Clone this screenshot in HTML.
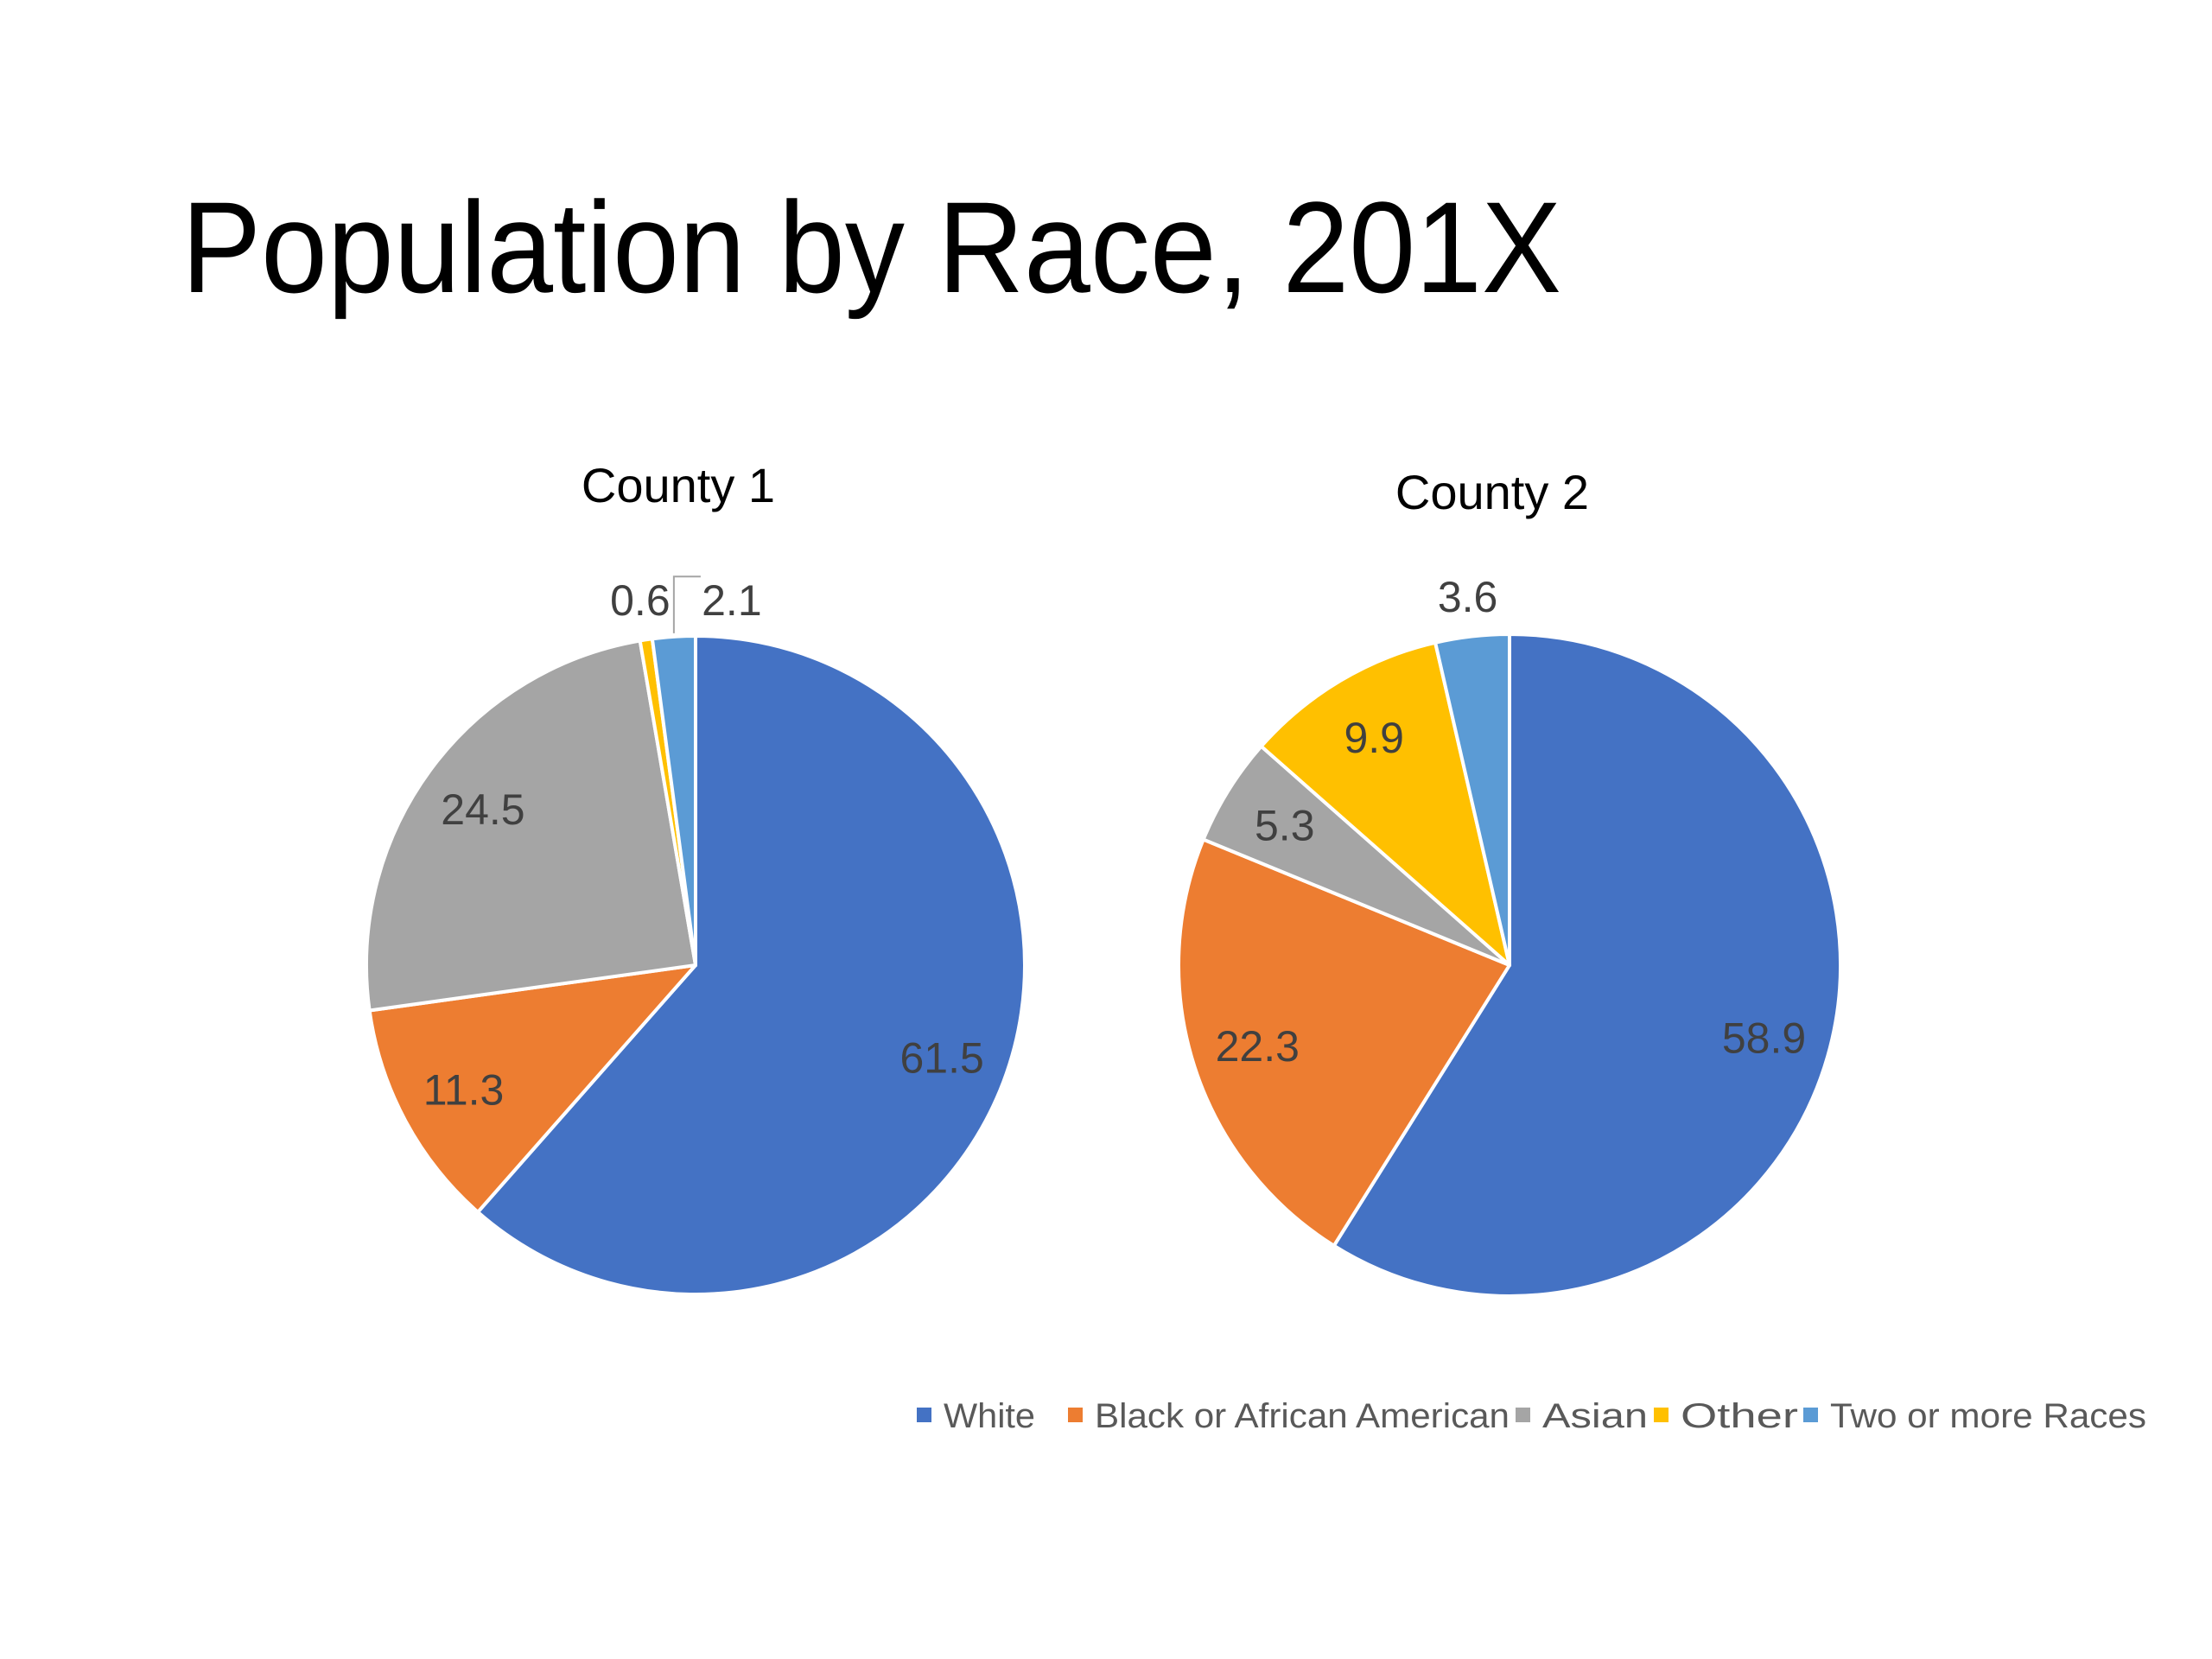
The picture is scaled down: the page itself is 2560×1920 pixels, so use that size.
<!DOCTYPE html>
<html><head><meta charset="utf-8"><style>
html,body{margin:0;padding:0;background:#fff;}
svg{display:block;}
text{font-family:"Liberation Sans Narrow","Liberation Sans",sans-serif;}
</style></head><body>
<svg id="chart" width="2560" height="1920" viewBox="0 0 2560 1920" xmlns="http://www.w3.org/2000/svg">
<rect width="2560" height="1920" fill="#fff"/>
<text x="210" y="338" font-size="150" fill="#000" textLength="1597" lengthAdjust="spacingAndGlyphs">Population by Race, 201X</text>
<g id="pies"></g>
<g id="legend"></g>
</svg>
<script>
const categories = ["White","Black or African American","Asian","Other","Two or more Races"];
const county1Values = [61.5, 11.3, 24.5, 0.6, 2.1];
const county2Values = [58.9, 22.3, 5.3, 9.9, 3.6];
const pieTitles = ["County 1","County 2"];
const colors = ["#4472C4","#ED7D31","#A5A5A5","#FFC000","#5B9BD5"];

const NS = "http://www.w3.org/2000/svg";
const svg = document.getElementById('chart');
const pies = document.getElementById('pies');
function mk(tag, attrs, parent){
  const e = document.createElementNS(NS, tag);
  for (const k in attrs) e.setAttribute(k, attrs[k]);
  (parent||svg).appendChild(e);
  return e;
}
const pieDefs = [
  {values: county1Values, cx: 805, cy: 1117, r: 381, titleY: 581},
  {values: county2Values, cx: 1747, cy: 1117, r: 383, titleY: 589}
];
pieDefs.forEach((p, pi) => {
  const g = mk('g', {}, pies);
  
  
  const t = mk('text', {x: p.cx - 20, y: p.titleY, 'font-size': 56, 'text-anchor': 'middle', fill: '#000'}, g);
  t.textContent = pieTitles[pi];
  
  
  const total = p.values.reduce((a,b)=>a+b,0);
  let acc = 0;
  let prevOut = null;
  p.values.forEach((v, i) => {
    const a0 = acc / total * 2 * Math.PI;
    acc += v;
    const a1 = acc / total * 2 * Math.PI;
    const x0 = p.cx + p.r*Math.sin(a0), y0 = p.cy - p.r*Math.cos(a0);
    const x1 = p.cx + p.r*Math.sin(a1), y1 = p.cy - p.r*Math.cos(a1);
    const large = (a1 - a0) > Math.PI ? 1 : 0;
    const path = mk('path', {d: `M${p.cx},${p.cy} L${x0},${y0} A${p.r},${p.r} 0 ${large} 1 ${x1},${y1} Z`, fill: colors[i], stroke: '#fff', 'stroke-width': 4, 'stroke-linejoin': 'round'}, g);
    
    
    const am = (a0 + a1)/2;
    let lx, ly, outside = v < 4;
    const f = outside ? 1.12 : 0.8;
    lx = p.cx + f*p.r*Math.sin(am);
    ly = p.cy - f*p.r*Math.cos(am);
    if (outside && prevOut && Math.abs(lx - prevOut.x) < 90) {
      const ex = p.cx + p.r*Math.sin(am), ey = p.cy - p.r*Math.cos(am);
      const nx = prevOut.x + 106;
      const ln = mk('polyline', {points: `${ex},${ey-4} ${ex},${ly-24} ${nx-36},${ly-24}`, fill: 'none', stroke: '#A5A5A5', 'stroke-width': 2}, g);
      
      
      lx = nx; ly = prevOut.y;
    }
    if (outside) prevOut = {x: lx, y: ly};
    const lt = mk('text', {x: lx, y: ly, 'font-size': 50, 'text-anchor': 'middle', 'dominant-baseline': 'central', fill: '#404040'}, g);
    lt.textContent = v.toFixed(1);
    
    
  });
});
const legend = document.getElementById('legend');
const legX = [1061, 1236, 1754, 1914, 2087];
const legW = [106, 480, 122, 136, 366];
categories.forEach((c, i) => {
  const g = mk('g', {}, legend);
  
  
  mk('rect', {x: legX[i], y: 1629, width: 17, height: 17, fill: colors[i]}, g);
  const t = mk('text', {x: legX[i] + 31, y: 1652, 'font-size': 40, fill: '#595959', textLength: legW[i], lengthAdjust: 'spacingAndGlyphs'}, g);
  t.textContent = c;
});
</script>
</body></html>
